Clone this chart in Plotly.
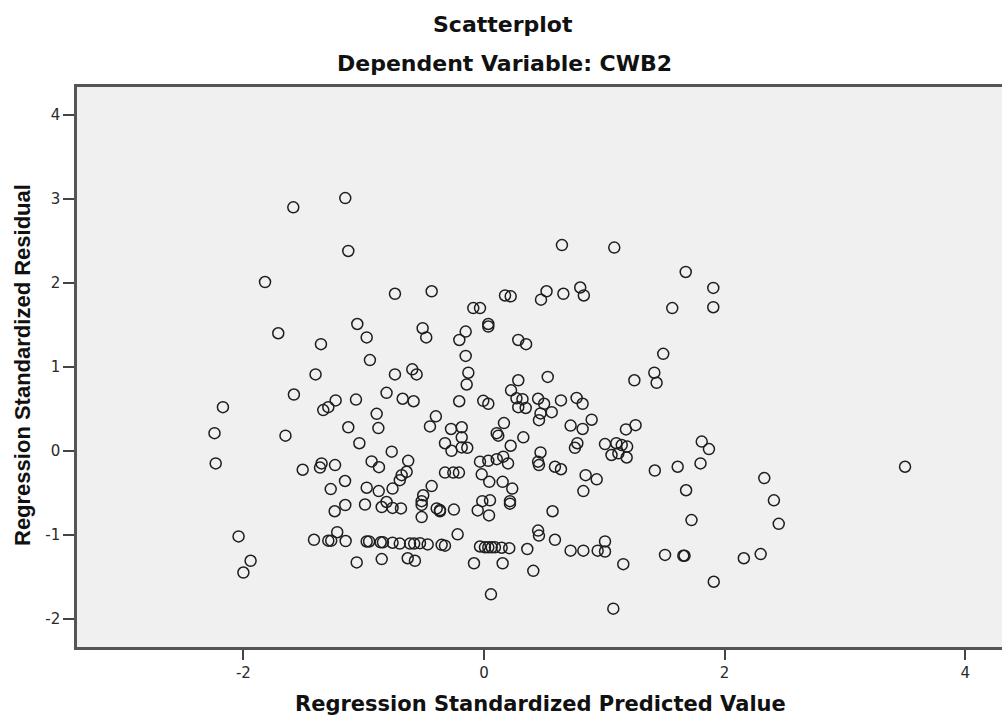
import plotly.graph_objects as go

# Regression standardized predicted values (x) and residuals (y)
pred = [
    -2.17, -2.24, -2.23, -2.04, -1.94, -2.00, -1.65, -1.585, -1.82, -1.71,
    -1.153, -1.128, -0.74, -1.053, -1.355, -0.975, -0.948, -0.51, -0.48, -1.40,
    -0.74, -0.596, -0.56, -1.58, -0.81, -1.233, -1.064, -0.676, -0.585,
    0.648, -0.435, 0.175, 0.222, 0.52, 0.474, 0.66, 0.80, 0.83, -0.089,
    -0.033, 0.036, 0.036, -0.152, -0.205, 0.285, 0.35, -0.152, -0.13, -0.144,
    0.285, 0.53, 0.225, 0.27, 0.32, -0.206, -0.006, 0.45, 0.64, 0.77,
    1.083, 1.677, 1.906, 1.906, 1.565, 1.49, 1.416, 1.435, 1.25,
    1.81, 1.87, 1.80, 2.33, 2.41, 2.45, 2.16, 2.30, 1.91, 3.50,
    -1.336, -1.294, -0.892, -0.878, -1.128, -1.036, -0.767, -1.507, -1.35, -1.363,
    -1.238, -0.934, -0.873, -1.155, -1.274, -0.975, -0.875, -0.76, -1.153, -1.241,
    -0.989, -0.85, -0.81, -0.76, -1.413, -1.22, -1.294, -1.27, -1.15, -0.975,
    -0.955, -0.859, -0.84, -0.76, -1.058, -0.85,
    0.036, 0.285, 0.347, 0.50, 0.457, 0.47, -0.40, -0.449, -0.274, -0.185,
    -0.185, -0.324, -0.27, -0.185, -0.139, 0.166, 0.106, 0.119, 0.327, 0.222,
    0.47, 0.45, 0.457, -0.63, -0.684, -0.643, -0.70, -0.435, -0.505, -0.518,
    -0.518, -0.69, -0.518, -0.393, -0.366, -0.366, -0.25, -0.324, -0.255, -0.208,
    -0.033, 0.036, 0.106, 0.16, 0.20, -0.019, 0.044, 0.155, 0.235, -0.014,
    0.05, 0.216, 0.216, -0.052, 0.042, 0.57, -0.219, -0.70, -0.615, -0.58,
    -0.532, -0.468, -0.352, -0.324, -0.634, -0.574, -0.033, 0.008, 0.036, 0.064,
    0.091, 0.147, 0.21, 0.36, 0.45, 0.457, -0.083, 0.155, 0.41, 0.058,
    0.82, 0.563, 0.72, 0.82, 0.895, 0.776, 0.756, 1.18, 1.26, 1.006,
    1.10, 1.145, 1.19, 1.06, 1.117, 1.186, 1.42, 1.61, 1.68, 1.725,
    0.59, 0.64, 0.845, 0.937, 0.826, 0.59, 0.72, 0.826, 0.945, 1.006,
    1.006, 1.158, 1.505, 1.657, 1.667, 1.075,
]
resid = [
    0.52, 0.21, -0.15, -1.02, -1.31, -1.45, 0.18, 2.90, 2.01, 1.40,
    3.01, 2.38, 1.87, 1.51, 1.27, 1.35, 1.08, 1.46, 1.35, 0.91,
    0.91, 0.97, 0.91, 0.67, 0.69, 0.60, 0.61, 0.62, 0.59,
    2.45, 1.90, 1.85, 1.84, 1.90, 1.80, 1.87, 1.945, 1.85, 1.70,
    1.70, 1.51, 1.48, 1.42, 1.32, 1.32, 1.27, 1.13, 0.93, 0.79,
    0.84, 0.88, 0.72, 0.625, 0.615, 0.59, 0.595, 0.62, 0.60, 0.63,
    2.42, 2.13, 1.94, 1.71, 1.70, 1.155, 0.93, 0.81, 0.84,
    0.11, 0.02, -0.15, -0.325, -0.59, -0.87, -1.28, -1.23, -1.56, -0.19,
    0.485, 0.52, 0.44, 0.27, 0.28, 0.09, -0.01, -0.226, -0.15, -0.20,
    -0.17, -0.127, -0.195, -0.36, -0.456, -0.44, -0.48, -0.45, -0.646, -0.72,
    -0.64, -0.67, -0.61, -0.68, -1.06, -0.97, -1.07, -1.07, -1.075, -1.08,
    -1.08, -1.09, -1.09, -1.095, -1.33, -1.29,
    0.56, 0.52, 0.51, 0.56, 0.365, 0.445, 0.41, 0.29, 0.26, 0.28,
    0.16, 0.09, 0.0, 0.04, 0.036, 0.33, 0.21, 0.18, 0.16, 0.06,
    -0.02, -0.13, -0.17, -0.12, -0.29, -0.25, -0.35, -0.42, -0.53, -0.60,
    -0.645, -0.686, -0.79, -0.686, -0.706, -0.72, -0.70, -0.26, -0.26, -0.26,
    -0.13, -0.12, -0.10, -0.07, -0.15, -0.28, -0.37, -0.37, -0.45, -0.60,
    -0.59, -0.60, -0.63, -0.71, -0.77, -0.72, -0.995, -1.105, -1.105, -1.105,
    -1.10, -1.115, -1.12, -1.13, -1.28, -1.31, -1.14, -1.15, -1.15, -1.15,
    -1.15, -1.155, -1.16, -1.17, -0.95, -1.01, -1.34, -1.34, -1.43, -1.71,
    0.56, 0.46, 0.30, 0.26, 0.37, 0.09, 0.036, 0.255, 0.305, 0.08,
    0.09, 0.068, 0.05, -0.05, -0.03, -0.08, -0.235, -0.19, -0.47, -0.825,
    -0.19, -0.22, -0.29, -0.34, -0.48, -1.06, -1.19, -1.19, -1.19, -1.08,
    -1.20, -1.35, -1.24, -1.25, -1.25, -1.88,
]

x_ticks = [-2, 0, 2, 4]
x_tick_labels = ["-2", "0", "2", "4"]
y_ticks = [-2, -1, 0, 1, 2, 3, 4]
y_tick_labels = ["-2", "-1", "0", "1", "2", "3", "4"]

title_text = "Scatterplot"
subtitle_text = "Dependent Variable: CWB2"
x_title = "Regression Standardized Predicted Value"
y_title = "Regression Standardized Residual"

# body margin is removed by post_script, so layout is in page pixels
W, H = 1002, 716
L, T, R = 77, 87, 0
B = H - 647
PW, PH = W - L - R, H - T - B


def px(xp):
    return (xp - L) / PW


def py(yp):
    return (H - B - yp) / PH


fig = go.Figure()
fig.add_trace(go.Scatter(
    x=pred, y=resid, mode="markers",
    marker=dict(symbol="circle-open", size=11, color="#1e1e1e",
                line=dict(width=1.5, color="#1e1e1e")),
    hoverinfo="x+y", showlegend=False,
))

tick_font = dict(family="DejaVu Sans", size=15, color="#2a2a2a")
fig.update_layout(
    width=W, height=H,
    margin=dict(l=L, r=R, t=T, b=B),
    paper_bgcolor="white",
    plot_bgcolor="#f0f0f0",
    xaxis=dict(range=[-3.383, 4.306], tickvals=x_ticks, ticktext=x_tick_labels,
               showgrid=False, zeroline=False, showline=True, mirror=True,
               linecolor="#555555", linewidth=2.5, ticks="outside", ticklen=10,
               tickwidth=2, tickcolor="#444444", tickfont=tick_font),
    yaxis=dict(range=[-2.337, 4.333], tickvals=y_ticks, ticktext=y_tick_labels,
               showgrid=False, zeroline=False, showline=True, mirror=False,
               linecolor="#555555", linewidth=2.5, ticks="outside", ticklen=11,
               tickwidth=2, tickcolor="#444444", tickfont=tick_font),
    annotations=[
        dict(text=title_text, xref="paper", yref="paper", x=px(503), y=py(25),
             xanchor="center", yanchor="middle", showarrow=False,
             font=dict(family="DejaVu Sans", size=22, color="#111111", weight="bold")),
        dict(text=subtitle_text, xref="paper", yref="paper", x=px(504), y=py(64),
             xanchor="center", yanchor="middle", showarrow=False,
             font=dict(family="DejaVu Sans", size=22, color="#111111", weight="bold")),
        dict(text=x_title, xref="paper", yref="paper", x=px(540), y=py(704),
             xanchor="center", yanchor="middle", showarrow=False,
             font=dict(family="DejaVu Sans", size=21, color="#111111", weight="bold")),
        dict(text=y_title, xref="paper", yref="paper", x=px(22), y=py(365),
             xanchor="center", yanchor="middle", showarrow=False, textangle=-90,
             font=dict(family="Liberation Sans", size=22, color="#111111", weight="bold")),
    ],
)

fig.write_html(
    "out.html",
    config={"displayModeBar": False},
    post_script="document.body.style.margin='0';document.body.style.overflow='hidden';",
)
